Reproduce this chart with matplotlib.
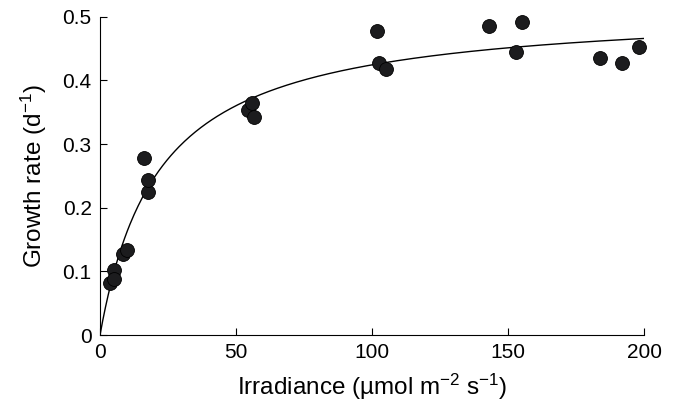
import numpy as np
import matplotlib
matplotlib.use('Agg')
import matplotlib.pyplot as plt

plt.rcParams['font.family'] = ['Liberation Sans', 'DejaVu Sans']
plt.rcParams['mathtext.fontset'] = 'custom'
plt.rcParams['mathtext.rm'] = 'Liberation Sans'
plt.rcParams['mathtext.it'] = 'Liberation Sans'
plt.rcParams['mathtext.default'] = 'regular'

irradiance = [3.8, 5.1, 5.3, 8.6, 9.8, 16.2, 17.5, 17.8,
              54.3, 56.0, 56.6, 101.9, 102.6, 105.3,
              142.9, 152.8, 155.0, 183.7, 191.8, 198.0]
growth = [0.081, 0.102, 0.088, 0.127, 0.134, 0.278, 0.224, 0.243,
          0.353, 0.364, 0.342, 0.478, 0.428, 0.418,
          0.486, 0.445, 0.492, 0.435, 0.428, 0.453]

x_ticks = [0, 50, 100, 150, 200]
y_ticks = [0, 0.1, 0.2, 0.3, 0.4, 0.5]
y_tick_labels = ['0', '0.1', '0.2', '0.3', '0.4', '0.5']

# Michaelis-Menten fit to the points (grid search on K, least squares for mu_max)
I = np.array(irradiance)
mu = np.array(growth)
best = None
for K in np.linspace(1, 80, 800):
    f = I / (K + I)
    mu_max = (f @ mu) / (f @ f)
    err = np.sum((mu - mu_max * f) ** 2)
    if best is None or err < best[0]:
        best = (err, K, mu_max)
_, K_fit, mu_max_fit = best

fig = plt.figure(figsize=(6.79, 4.09), dpi=100)
ax = fig.add_axes([0.1473, 0.1809, 0.8012, 0.7783])

xs = np.linspace(0, 200, 400)
ax.plot(xs, mu_max_fit * xs / (K_fit + xs), color='black', linewidth=1.0)
ax.scatter(irradiance, growth, s=100, color='#1c1c1e', edgecolors='black',
           linewidths=0.6, zorder=3, clip_on=False)

ax.set_xlim(0, 200)
ax.set_ylim(0, 0.5)
ax.set_xticks(x_ticks)
ax.set_yticks(y_ticks)
ax.set_yticklabels(y_tick_labels)
ax.tick_params(direction='in', length=5, width=0.8, labelsize=15, pad=6)
ax.spines['top'].set_visible(False)
ax.spines['right'].set_visible(False)
ax.set_xlabel('Irradiance (µmol m$^{\u2212 2}$ s$^{\u2212 1}$)', fontsize=17.5, labelpad=7)
ax.set_ylabel('Growth rate (d$^{\u2212 1}$)', fontsize=17.5, labelpad=10)

fig.savefig('out.png', dpi=100)
